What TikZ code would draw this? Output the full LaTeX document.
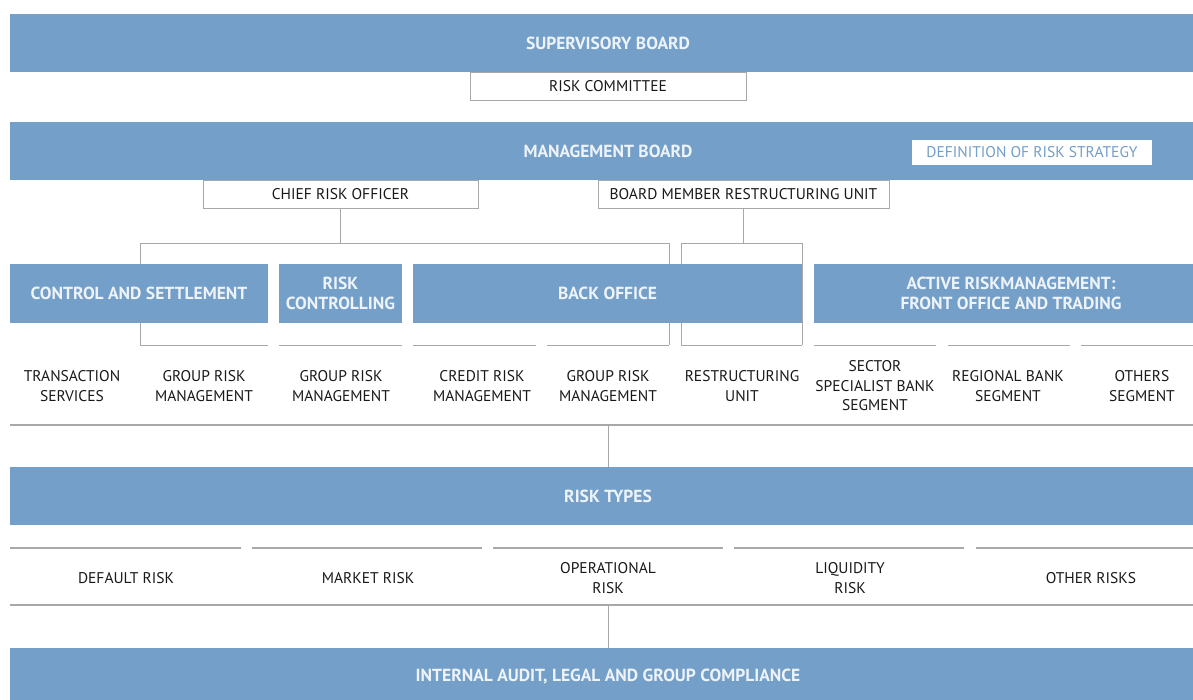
\documentclass[tikz,border=0pt]{standalone}
\usepackage{fontspec}
\setmainfont{PT Sans}
\usepackage{tikz}
\usetikzlibrary{arrows}

\definecolor{barblue}{RGB}{115,159,200}
\definecolor{bartext}{RGB}{238,243,249}
\definecolor{linegray}{RGB}{168,168,168}
\definecolor{labeltext}{RGB}{25,25,25}

\tikzset{
  bar/.style={fill=barblue, text=bartext, inner sep=0pt, align=center,
    font=\fontsize{17.5}{20}\selectfont\bfseries},
  subbox/.style={draw=linegray, line width=1pt, fill=white, inner sep=0pt,
    text=labeltext, font=\fontsize{15.5}{18}\selectfont},
  unitlbl/.style={text=labeltext, align=center, inner sep=0pt,
    font=\fontsize{15.5}{19.5}\selectfont},
  link/.style={draw=linegray, line width=1pt},
  rule/.style={draw=linegray, line width=1.6pt}
}

\begin{document}
\begin{tikzpicture}[x=1pt,y=-1pt]
	\useasboundingbox (0,0) rectangle (1193,699);
	% boxes hanging below the boards
	\node[subbox, minimum width=276, minimum height=28] (rc) at (608,86) {RISK COMMITTEE};
	\node[subbox, minimum width=275, minimum height=28] (cro) at (340.5,194) {CHIEF RISK OFFICER};
	\node[subbox, minimum width=291, minimum height=28] (bmru) at (743.5,194) {BOARD MEMBER RESTRUCTURING UNIT};
	\coordinate (croj) at (340.5,243);
	\coordinate (brl) at (140,243);
	\coordinate (brr) at (669,243);
	\coordinate (brlb) at (140,345);
	\coordinate (brrb) at (669,345);
	\coordinate (bmj) at (743.5,243);
	\coordinate (rul) at (681,243);
	\coordinate (rur) at (802,243);
	\coordinate (rulb) at (681,345);
	\coordinate (rurb) at (802,345);
	\draw [link](cro)--(croj);
	\draw [link](brlb)--(brl)--(brr)--(brrb);
	\draw [link](bmru)--(bmj);
	\draw [link](rulb)--(rul)--(rur)--(rurb);
	% column rules
	\foreach \a/\b [count=\i] in {140/268,279/402,413/536,547/669,681/802,814/936,948/1070,1081/1206}{
		\coordinate (ca\i) at (\a,345);
		\coordinate (cb\i) at (\b,345);
		\draw [link](ca\i)--(cb\i);
	}
	% boards
	\node[bar, minimum width=1196, minimum height=58] (sb) at (608,43) {SUPERVISORY BOARD};
	\node[bar, minimum width=1196, minimum height=58] (mb) at (608,151) {MANAGEMENT BOARD};
	\node[fill=white, text=barblue, inner sep=0pt, minimum width=240, minimum height=25,
		font=\fontsize{15.5}{18}\selectfont] (drs) at (1032,152.5) {DEFINITION OF RISK STRATEGY};
	\node[bar, minimum width=258, minimum height=59] (cs) at (139,293.5) {CONTROL AND SETTLEMENT};
	\node[bar, minimum width=123, minimum height=59] (rcg) at (340.5,293.5) {RISK\\CONTROLLING};
	\node[bar, minimum width=389, minimum height=59] (bo) at (607.5,293.5) {BACK OFFICE};
	\node[bar, minimum width=394, minimum height=59] (arm) at (1011,293.5) {ACTIVE RISKMANAGEMENT:\\FRONT OFFICE AND TRADING};
	% units
	\node[unitlbl] (u1) at (72,386) {TRANSACTION\\SERVICES};
	\node[unitlbl] (u2) at (204,386) {GROUP RISK\\MANAGEMENT};
	\node[unitlbl] (u3) at (341,386) {GROUP RISK\\MANAGEMENT};
	\node[unitlbl] (u4) at (482,386) {CREDIT RISK\\MANAGEMENT};
	\node[unitlbl] (u5) at (608,386) {GROUP RISK\\MANAGEMENT};
	\node[unitlbl] (u6) at (742,386) {RESTRUCTURING\\UNIT};
	\node[unitlbl] (u7) at (875,386) {SECTOR\\SPECIALIST BANK\\SEGMENT};
	\node[unitlbl] (u8) at (1008,386) {REGIONAL BANK\\SEGMENT};
	\node[unitlbl] (u9) at (1142,386) {OTHERS\\SEGMENT};
	\coordinate (ul) at (10,425);
	\coordinate (ur) at (1206,425);
	\coordinate (uj) at (608,425);
	\draw [rule](ul)--(ur);
	% risk types
	\node[bar, minimum width=1196, minimum height=58] (rt) at (608,496) {RISK TYPES};
	\draw [link](uj)--(rt.north);
	\foreach \a/\b [count=\i] in {10/241,252/482,493/723,734/964,976/1206}{
		\coordinate (ra\i) at (\a,548);
		\coordinate (rb\i) at (\b,548);
		\draw [rule](ra\i)--(rb\i);
	}
	\node[unitlbl] (r1) at (126,578) {DEFAULT RISK};
	\node[unitlbl] (r2) at (368,578) {MARKET RISK};
	\node[unitlbl] (r3) at (608,578) {OPERATIONAL\\RISK};
	\node[unitlbl] (r4) at (850,578) {LIQUIDITY\\RISK};
	\node[unitlbl] (r5) at (1091,578) {OTHER RISKS};
	\coordinate (ll) at (10,605);
	\coordinate (lr) at (1206,605);
	\coordinate (lj) at (608,605);
	\draw [rule](ll)--(lr);
	% audit
	\node[bar, minimum width=1196, minimum height=58] (ia) at (608,677) {INTERNAL AUDIT, LEGAL AND GROUP COMPLIANCE};
	\draw [link](lj)--(ia.north);
\end{tikzpicture}
\end{document}
